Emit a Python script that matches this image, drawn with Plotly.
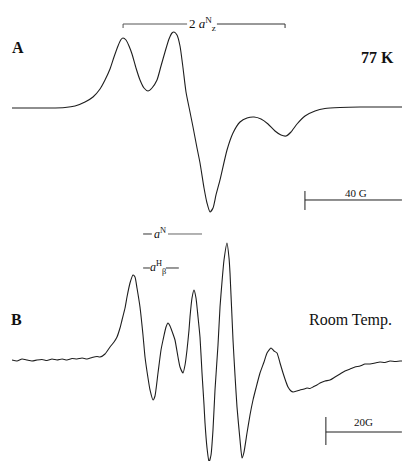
import plotly.graph_objects as go

# ---- Spectrum A (77 K): field in G, first-derivative intensity (a.u.)
field_A = [0.00, 7.42, 15.67, 21.86, 25.98, 30.10, 33.40, 36.29, 38.35, 40.41, 42.06, 43.71,
           44.95, 45.77, 47.01, 48.25, 49.48, 51.13, 52.78, 54.43, 56.08, 57.73, 59.79, 61.44,
           63.09, 64.74, 65.98, 66.80, 68.04, 69.28, 70.52, 71.75, 73.40, 74.64, 76.29, 77.53,
           79.18, 80.41, 81.65, 82.89, 84.12, 85.77, 88.66, 91.13, 94.02, 96.91, 99.79, 102.68,
           105.57, 108.45, 110.93, 112.99, 115.05, 117.53, 120.82, 124.95, 129.07, 135.26,
           143.51, 151.75, 160.82]
signal_A = [0, 0, 0, 0.5, 2, 6, 11, 19, 28, 39, 51, 62,
            68.5, 70, 68, 62, 54, 40, 28, 20, 17, 20, 28, 42,
            56, 69, 75, 76, 73, 62, 40, 16, -4, -19, -40, -55,
            -80, -95, -104, -100, -87, -72, -42, -25, -14, -10, -9, -11,
            -16, -23, -27, -28, -24, -16, -8, -3, -0.5, 0.5,
            1, 1, 1]

# ---- Spectrum B (room temperature)
field_B = [0.00, 1.32, 2.63, 3.95, 5.26, 6.58, 7.89, 9.21, 10.53, 11.84, 13.16, 14.47, 15.79,
           17.11, 18.42, 19.74, 21.05, 22.37, 23.16, 24.47, 25.79, 26.84, 27.63, 28.42, 28.95,
           29.74, 30.26, 31.05, 31.84, 32.37, 32.89, 33.68, 34.47, 35.00, 35.79, 36.32, 37.11,
           37.63, 38.42, 39.21, 39.74, 40.53, 41.05, 41.58, 42.37, 42.89, 43.68, 44.21, 45.00,
           45.53, 46.05, 46.58, 46.84, 47.37, 47.89, 48.42, 48.95, 49.47, 50.00, 50.53, 50.79,
           51.32, 51.84, 52.37, 52.89, 53.42, 54.21, 54.74, 55.26, 55.79, 56.58, 57.11, 57.37,
           58.16, 58.68, 59.21, 60.00, 60.53, 61.05, 61.84, 62.63, 63.42, 64.21, 65.26, 66.32,
           67.11, 68.16, 68.95, 69.74, 70.53, 71.32, 72.11, 72.63, 73.42, 73.95, 75.00, 75.79,
           76.84, 77.63, 78.42, 79.21, 80.26, 81.05, 82.37, 83.68, 85.00, 86.32, 87.63, 88.95,
           90.26, 91.58, 92.89, 94.21, 95.53, 96.84, 98.16, 99.47, 100.79, 102.11, 102.63]
signal_B = [0, -1, 1, 0, -1, 0, 0.5, -0.5, 1, 0, 1, 0, 1.5,
            1, 2, 1, 2.5, 3.5, 3, 6, 13, 18, 23, 32, 40,
            52, 63, 77, 85, 83, 72, 53, 25, 3, -18, -30, -40,
            -36, -13, 10, 20, 33, 37, 34, 26, 20, 3, -7, -13,
            -5, 10, 30, 43, 62, 70, 62, 43, 23, -13, -45, -63,
            -88, -102, -95, -70, -30, 15, 53, 78, 100, 117, 102, 87,
            20, -15, -47, -80, -98, -92, -73, -55, -40, -28, -13, -2,
            7, 12, 9, 7, -3, -13, -22, -27, -31, -32, -31, -30,
            -29, -28, -28.5, -27, -25, -23, -21, -20, -17, -14, -11, -9,
            -7, -6, -4, -4, -3, -2, -2.5, -1, -1.5, -1, -1]

# ---- annotation values
scale_A_start, scale_A_len = 120.8, 40      # G
scale_B_start, scale_B_len = 82.6, 20       # G
split_A = [45.8, 112.6]                     # 2 a_z^N bracket (G)
aN_B = [34.5, 50.0]                         # a^N bracket (G)
aH_B = [34.5, 43.9]                         # a_beta^H bracket (G)

ink = "#1e1e1e"
serif = "Liberation Serif"

fig = go.Figure()
fig.add_trace(go.Scatter(x=field_A, y=signal_A, mode="lines", xaxis="x", yaxis="y",
                         line=dict(color=ink, width=1.1, shape="spline", smoothing=0.6),
                         showlegend=False, hoverinfo="skip"))
fig.add_trace(go.Scatter(x=field_B, y=signal_B, mode="lines", xaxis="x2", yaxis="y2",
                         line=dict(color=ink, width=1.1, shape="spline", smoothing=0.5),
                         showlegend=False, hoverinfo="skip"))

shapes = []
def seg(x0, y0, x1, y1, xr, yr, w=1, c=ink):
    shapes.append(dict(type="line", x0=x0, y0=y0, x1=x1, y1=y1, xref=xr, yref=yr,
                       line=dict(color=c, width=w)))

# scale bar A
seg(scale_A_start, -92, scale_A_start + scale_A_len, -92, "x", "y")
seg(scale_A_start, -83, scale_A_start, -102, "x", "y")
# scale bar B
seg(scale_B_start, -72, scale_B_start + scale_B_len, -72, "x2", "y2")
seg(scale_B_start, -57, scale_B_start, -85, "x2", "y2")
# bracket A
seg(split_A[0], 84, 72.2, 84, "x", "y", 1, "#555")
seg(84.5, 84, split_A[1], 84, "x", "y", 1, "#333")
seg(split_A[0], 84, split_A[0], 80, "x", "y", 1, "#555")
seg(split_A[1], 84, split_A[1], 80, "x", "y", 1, "#333")
# a^N bracket B
seg(aN_B[0], 126, 36.8, 126, "x2", "y2", 1, "#333")
seg(41.05, 126, aN_B[1], 126, "x2", "y2", 1, "#666")
# a_beta^H bracket B
seg(aH_B[0], 92, 36.3, 92, "x2", "y2", 1, "#333")
seg(40.5, 92, aH_B[1], 92, "x2", "y2", 1, "#333")

ann = []
def txt(x, y, s, size, xr="paper", yr="paper", bold=False, xanchor="center"):
    ann.append(dict(x=x, y=y, xref=xr, yref=yr, text=("<b>%s</b>" % s) if bold else s,
                    showarrow=False, xanchor=xanchor, yanchor="middle",
                    font=dict(family=serif, size=size, color="#111")))

A_ = "<span style='color:#111'><i>a</i></span>"
txt(0.045, 0.896, "A", 16, bold=True)
txt(0.938, 0.876, "77 K", 16, bold=True)
txt(0.042, 0.306, "B", 16, bold=True)
txt(0.871, 0.306, "Room Temp.", 16)
txt(0.886, 0.581, "40 G", 11)
txt(0.905, 0.085, "20G", 11)
txt(78.4, 84, "2 " + A_ + "<sup>N</sup><sub>z</sub>", 13, "x", "y")
txt(38.9, 126, A_ + "<sup>N</sup>", 12, "x2", "y2")
txt(38.4, 92, A_ + "<sup>H</sup><sub>β</sub>", 12, "x2", "y2")

ax_off = dict(visible=False, showgrid=False, zeroline=False, fixedrange=True)
fig.update_layout(
    width=402, height=461, margin=dict(l=0, r=0, t=0, b=0),
    paper_bgcolor="white", plot_bgcolor="white",
    xaxis=dict(range=[-4.95, 160.82], domain=[0, 1], anchor="y", **ax_off),
    yaxis=dict(range=[-122, 108], domain=[0.5011, 1], anchor="x", **ax_off),
    xaxis2=dict(range=[-3.16, 102.63], domain=[0, 1], anchor="y2", **ax_off),
    yaxis2=dict(range=[-101, 130], domain=[0, 0.5011], anchor="x2", **ax_off),
    shapes=shapes, annotations=ann,
)
fig.write_html("out.html")
